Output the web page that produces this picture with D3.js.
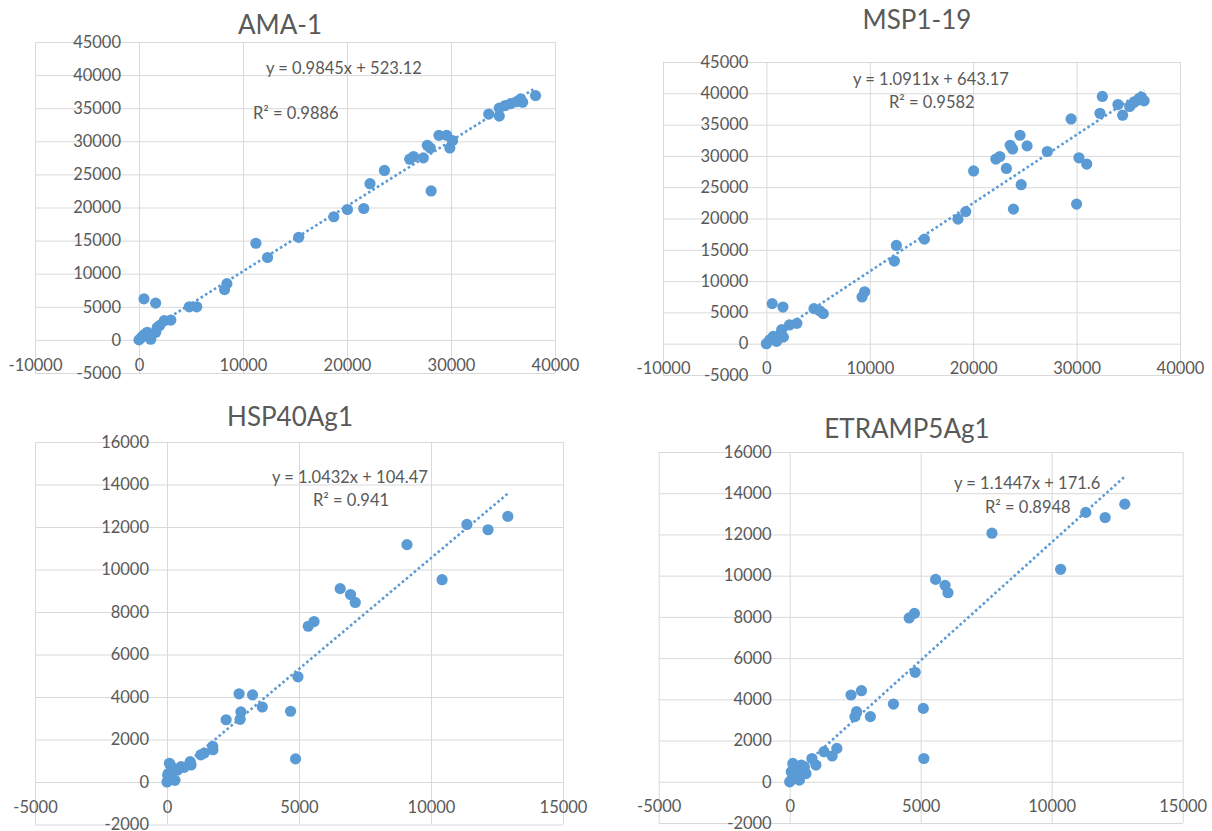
<!DOCTYPE html>
<html>
<head>
<meta charset="utf-8">
<script src="https://cdn.jsdelivr.net/npm/d3@7"></script>
<style>
  body { margin: 0; background: #fff; }
  svg text { font-family: Lato, "Open Sans", sans-serif; fill: #595959; }
</style>
</head>
<body>
<svg id="chart" width="1212" height="831"></svg>
<script>
// ---- AMA-1 ----
const amaX = [0, 200, 600, 480, 1600, 390, 800, 1130, 1000, 1610, 1770, 2000, 2420, 3060, 4840, 5550, 8230, 8450,
  11240, 12360, 15360, 18730, 20040, 21610, 22210, 23600, 26030, 26400, 27340, 27720, 28010, 28090, 28840,
  29590, 29890, 30150, 33630, 34640, 34640, 35210, 35770, 36330, 36700, 36890, 38130];
const amaY = [0, 300, 900, 6200, 5550, 650, 1150, 100, 400, 1150, 1900, 2200, 2900, 3000, 5000, 5000, 7600, 8500,
  14600, 12450, 15500, 18600, 19700, 19850, 23600, 25600, 27300, 27700, 27500, 29400, 29000, 22500, 30900,
  30900, 29000, 30100, 34100, 33800, 35000, 35400, 35700, 36000, 36400, 35900, 36900];

// ---- MSP1-19 ----
const mspX = [0, 560, 1600, 330, 660, 980, 1310, 1480, 1640, 2230, 2950, 4600, 5150, 5500, 9250, 9500,
  12380, 12570, 15280, 18530, 19280, 20040, 22190, 22570, 23210, 23580, 23810, 23890, 24530, 24640, 25210,
  27170, 29470, 30000, 30230, 30980, 32260, 32490, 34000, 34450, 35130, 35510, 35890, 36260, 36530];
const mspY = [0, 6400, 5850, 630, 1160, 370, 1420, 2250, 1050, 3000, 3250, 5600, 5260, 4800, 7470, 8300,
  13200, 15700, 16700, 19900, 21100, 27600, 29500, 29900, 28000, 31700, 31100, 21500, 33300, 25400, 31600,
  30700, 35900, 22300, 29700, 28700, 36800, 39500, 38200, 36500, 37900, 38500, 38900, 39400, 38800];

// ---- HSP40Ag1 ----
const hspX = [0, 90, 25, 130, 50, 210, 300, 400, 530, 650, 880, 910, 1280, 1410, 1730, 1740,
  2240, 2730, 2800, 2770, 3240, 3610, 4680, 4870, 4960, 5350, 5570, 6560, 6950, 7130, 9090, 10420,
  11360, 12160, 12910];
const hspY = [0, 880, 320, 800, 400, 590, 80, 560, 720, 690, 960, 800, 1280, 1360, 1680, 1520,
  2930, 4150, 3300, 2950, 4100, 3530, 3330, 1090, 4950, 7330, 7550, 9100, 8820, 8450, 11170, 9520,
  12120, 11870, 12500];

// ---- ETRAMP5Ag1 ----
const etrX = [0, 120, 60, 60, 250, 310, 440, 560, 620, 370, 190, 850, 1000, 1310, 1620, 1800,
  2340, 2740, 2550, 2490, 3080, 3960, 5100, 5120, 4560, 4760, 4790, 5570, 5930, 6040, 7720, 10340,
  11300, 12040, 12790];
const etrY = [0, 890, 490, 80, 240, 650, 810, 730, 400, 80, 700, 1130, 810, 1460, 1250, 1620,
  4210, 4420, 3400, 3160, 3160, 3770, 3560, 1130, 7950, 8170, 5310, 9820, 9530, 9170, 12060, 10310,
  13070, 12820, 13470];

// Axis ticks
const xTicksWide = [-10000, 0, 10000, 20000, 30000, 40000];
const yTicksWide = [-5000, 0, 5000, 10000, 15000, 20000, 25000, 30000, 35000, 40000, 45000];
const xTicksNarrow = [-5000, 0, 5000, 10000, 15000];
const yTicksNarrow = [-2000, 0, 2000, 4000, 6000, 8000, 10000, 12000, 14000, 16000];

// Titles and fitted trend lines
const titles = ["AMA-1", "MSP1-19", "HSP40Ag1", "ETRAMP5Ag1"];
const slopes = [0.9845, 1.0911, 1.0432, 1.1447];
const intercepts = [523.12, 643.17, 104.47, 171.6];
const equations = ["y = 0.9845x + 523.12", "y = 1.0911x + 643.17", "y = 1.0432x + 104.47", "y = 1.1447x + 171.6"];
const rSquared = ["R\u00B2 = 0.9886", "R\u00B2 = 0.9582", "R\u00B2 = 0.941", "R\u00B2 = 0.8948"];

const panels = [
  { xs: amaX, ys: amaY, xt: xTicksWide, yt: yTicksWide,
    xr: [35, 555], yr: [373, 42], title: [280, 25], eq: [266, 68], r2: [253, 113] },
  { xs: mspX, ys: mspY, xt: xTicksWide, yt: yTicksWide,
    xr: [663, 1180], yr: [375, 62], title: [917, 20], eq: [853, 79], r2: [889, 102] },
  { xs: hspX, ys: hspY, xt: xTicksNarrow, yt: yTicksNarrow,
    xr: [35, 563], yr: [824.5, 442], title: [290, 417], eq: [272, 477], r2: [313, 500] },
  { xs: etrX, ys: etrY, xt: xTicksNarrow, yt: yTicksNarrow,
    xr: [658.7, 1182.7], yr: [823, 452], title: [907, 429], eq: [954, 483], r2: [985, 507] }
];

const svg = d3.select("#chart");
const blue = "#5b9bd5";
const gridColor = "#d9d9d9";

panels.forEach((p, i) => {
  const x = d3.scaleLinear().domain(d3.extent(p.xt)).range(p.xr);
  const y = d3.scaleLinear().domain(d3.extent(p.yt)).range(p.yr);
  const g = svg.append("g");
  const w = p.xr[1] - p.xr[0];
  const h = p.yr[0] - p.yr[1];

  // grid
  const gy = g.append("g").attr("transform", `translate(${p.xr[0]},0)`)
    .call(d3.axisLeft(y).tickValues(p.yt).tickSize(-w).tickFormat(""));
  const gxg = g.append("g").attr("transform", `translate(0,${p.yr[0]})`)
    .call(d3.axisBottom(x).tickValues(p.xt).tickSize(h).tickFormat(""))
    .attr("transform", `translate(0,${p.yr[1]})`);
  [gy, gxg].forEach(a => {
    a.select(".domain").remove();
    a.selectAll("line").attr("stroke", gridColor).attr("stroke-width", 1);
  });

  // tick labels, placed beside the axes crossing at zero
  const ly = g.append("g").attr("transform", `translate(${x(0)},0)`)
    .call(d3.axisLeft(y).tickValues(p.yt).tickSize(0).tickPadding(18).tickFormat(d => String(d)));
  const lx = g.append("g").attr("transform", `translate(0,${y(0)})`)
    .call(d3.axisBottom(x).tickValues(p.xt).tickSize(0).tickPadding(19).tickFormat(d => String(d)));
  [ly, lx].forEach(a => {
    a.select(".domain").remove();
    a.attr("font-family", null).attr("font-size", null);
    a.selectAll("text").style("font-size", "16.5px").attr("fill", "#595959");
  });

  // trend line over the data range
  const [x0, x1] = d3.extent(p.xs);
  const line = d3.line().x(d => x(d)).y(d => y(slopes[i] * d + intercepts[i]));
  g.append("path").datum([x0, x1]).attr("d", line)
    .attr("fill", "none").attr("stroke", blue).attr("stroke-width", 2.6)
    .attr("stroke-dasharray", "2.6 2.6");

  // points
  g.append("g").selectAll("circle").data(p.xs.map((v, k) => [v, p.ys[k]]))
    .join("circle")
    .attr("cx", d => x(d[0])).attr("cy", d => y(d[1])).attr("r", 5.6)
    .attr("fill", blue);

  // title and equation labels
  g.append("text").attr("x", p.title[0]).attr("y", p.title[1]).attr("dy", "0.35em")
    .attr("text-anchor", "middle").style("font-size", "26px").text(titles[i]);
  g.append("text").attr("x", p.eq[0]).attr("y", p.eq[1]).attr("dy", "0.35em")
    .style("font-size", "16.5px").text(equations[i]);
  g.append("text").attr("x", p.r2[0]).attr("y", p.r2[1]).attr("dy", "0.35em")
    .style("font-size", "16.5px").text(rSquared[i]);
});
</script>
</body>
</html>
